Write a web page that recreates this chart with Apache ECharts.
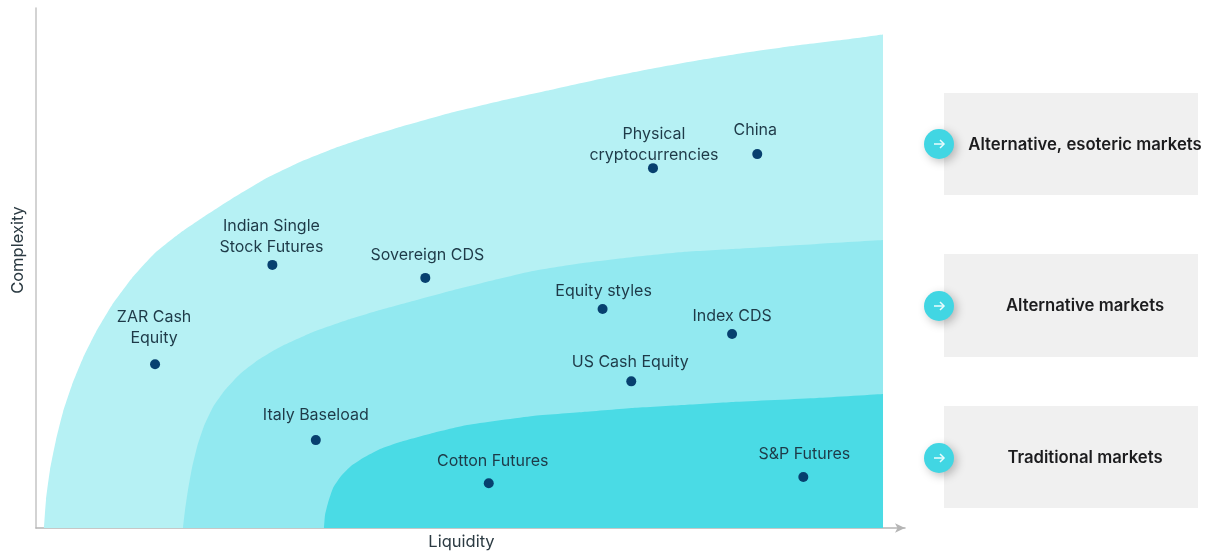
<!DOCTYPE html>
<html>
<head>
<meta charset="utf-8">
<style>html,body{margin:0;padding:0;background:#fff}#chart{width:1226px;height:553px}</style>
<script src="https://cdn.jsdelivr.net/npm/echarts@6/dist/echarts.min.js"></script>
</head>
<body>
<div id="chart"></div>
<script>
const outerBand = [[0.92,0],[1.15,5.38],[1.61,11.15],[2.3,16.92],[3.11,22.31],[4.14,27.5],[5.41,32.69],[6.9,37.69],[8.75,42.88],[11.05,48.08],[13.69,52.88],[16.57,56.73],[19.45,60],[22.67,63.46],[26.35,67.12],[30.38,70.38],[34.41,73.08],[38.09,75.19],[41.89,77.12],[47.64,79.81],[53.4,82.12],[59.15,84.23],[64.9,86.35],[70.66,88.27],[76.41,90],[82.16,91.54],[87.92,92.88],[93.67,94.04],[97.47,94.9]];
const middleBand = [[16.92,0],[17.15,3.46],[17.49,7.31],[17.95,11.54],[18.53,15.58],[19.33,19.62],[20.37,23.27],[21.75,26.54],[23.48,29.62],[25.55,32.31],[28.08,34.81],[31.88,37.69],[35.79,40],[39.59,41.92],[43.38,43.65],[47.64,45.58],[52.24,47.5],[57.19,49.42],[62.95,50.96],[68.7,52.12],[74.45,53.08],[80.21,53.65],[89.87,54.62],[97.47,55.38]];
const innerBand = [[33.14,0],[33.26,2.5],[33.6,4.81],[34.18,7.69],[35.1,10],[36.25,11.92],[37.63,13.46],[39.59,15.19],[41.89,16.54],[45.68,18.27],[49.6,19.81],[57.19,21.54],[62.95,22.31],[68.7,23.08],[74.45,23.65],[80.21,24.23],[89.87,25],[97.47,25.77]];
const marketNames = ['ZAR Cash\nEquity','Indian Single\nStock Futures','Sovereign CDS','Physical\ncryptocurrencies','China','Equity styles','Index CDS','US Cash Equity','Italy Baseload','Cotton Futures','S&P Futures'];
const liquidity = [13.7,27.2,44.8,71.0,83.0,65.2,80.1,68.5,32.2,52.1,88.3];
const complexity = [31.5,50.6,48.1,69.2,71.9,42.1,37.3,28.2,16.9,8.6,9.8];
const tierNames = ['Alternative, esoteric markets','Alternative markets','Traditional markets'];

const FONT = 'Inter, Roboto, sans-serif';
const panelTops = [93,254,406];
const panelHeights = [102,103,102];
const circleY = [144,306,458];
const textY = [145,306,458];
const labelNudges = [[-1,-3.5],[-1,4.5],[2,0],[1,10],[-2,-1],[1,5],[0,5],[-1,3.5],[0,-2],[4,0.5],[1,0]];

const graphic = [];
tierNames.forEach((t,i)=>{
  graphic.push({type:'rect',z:10,shape:{x:944,y:panelTops[i],width:254,height:panelHeights[i]},style:{fill:'#f0f0f0'}});
  graphic.push({type:'circle',z:11,shape:{cx:939,cy:circleY[i],r:15},style:{fill:'#41d6e3',shadowBlur:10,shadowColor:'rgba(0,0,0,0.25)',shadowOffsetX:3,shadowOffsetY:3}});
  graphic.push({type:'polyline',z:12,shape:{points:[[934,circleY[i]],[944,circleY[i]]]},style:{stroke:'#eafcfd',lineWidth:1.5,fill:null}});
  graphic.push({type:'polyline',z:12,shape:{points:[[940,circleY[i]-4],[944,circleY[i]],[940,circleY[i]+4]]},style:{stroke:'#eafcfd',lineWidth:1.5,fill:null}});
  graphic.push({type:'text',z:12,style:{x:1085,y:textY[i],text:t,align:'center',verticalAlign:'middle',font:'600 16.7px '+FONT,fill:'#1c1c1e'}});
});

const band = (data,color)=>({type:'line',data,smooth:0.15,showSymbol:false,silent:true,lineStyle:{width:0},areaStyle:{color,opacity:1},animation:false});

const chart = echarts.init(document.getElementById('chart'),null,{renderer:'canvas'});
chart.setOption({
  animation:false,
  backgroundColor:'#fff',
  grid:{left:36,right:321,top:8,bottom:25,outerBoundsMode:'none'},
  xAxis:{type:'value',min:0,max:100,name:'Liquidity',nameLocation:'middle',nameGap:6,
    nameTextStyle:{fontFamily:FONT,fontSize:16.5,color:'#2b3a42',padding:[0,18,0,0]},
    axisLine:{show:true,symbol:['none','arrow'],symbolSize:[7,10],lineStyle:{color:'#b5b5b5',width:1.5}},
    axisTick:{show:false},axisLabel:{show:false},splitLine:{show:false}},
  yAxis:{type:'value',min:0,max:100,name:'Complexity',nameLocation:'middle',nameGap:9,
    nameTextStyle:{fontFamily:FONT,fontSize:16.5,color:'#2b3a42',padding:[0,0,0,36]},
    axisLine:{show:true,lineStyle:{color:'#c4c4c4',width:1.5}},
    axisTick:{show:false},axisLabel:{show:false},splitLine:{show:false}},
  graphic,
  series:[
    band(outerBand,'#b6f1f4'),
    band(middleBand,'#92e9f0'),
    band(innerBand,'#4adbe5'),
    {type:'scatter',symbolSize:10,z:5,
     data:liquidity.map((x,i)=>({name:marketNames[i],value:[x,complexity[i]],label:{offset:labelNudges[i]}})),
     itemStyle:{color:'#07406f',opacity:1},
     label:{show:true,position:'top',distance:7,formatter:p=>p.name,fontFamily:FONT,fontSize:16,lineHeight:21,color:'#1e3a48'}}
  ]
});
</script>
</body>
</html>
